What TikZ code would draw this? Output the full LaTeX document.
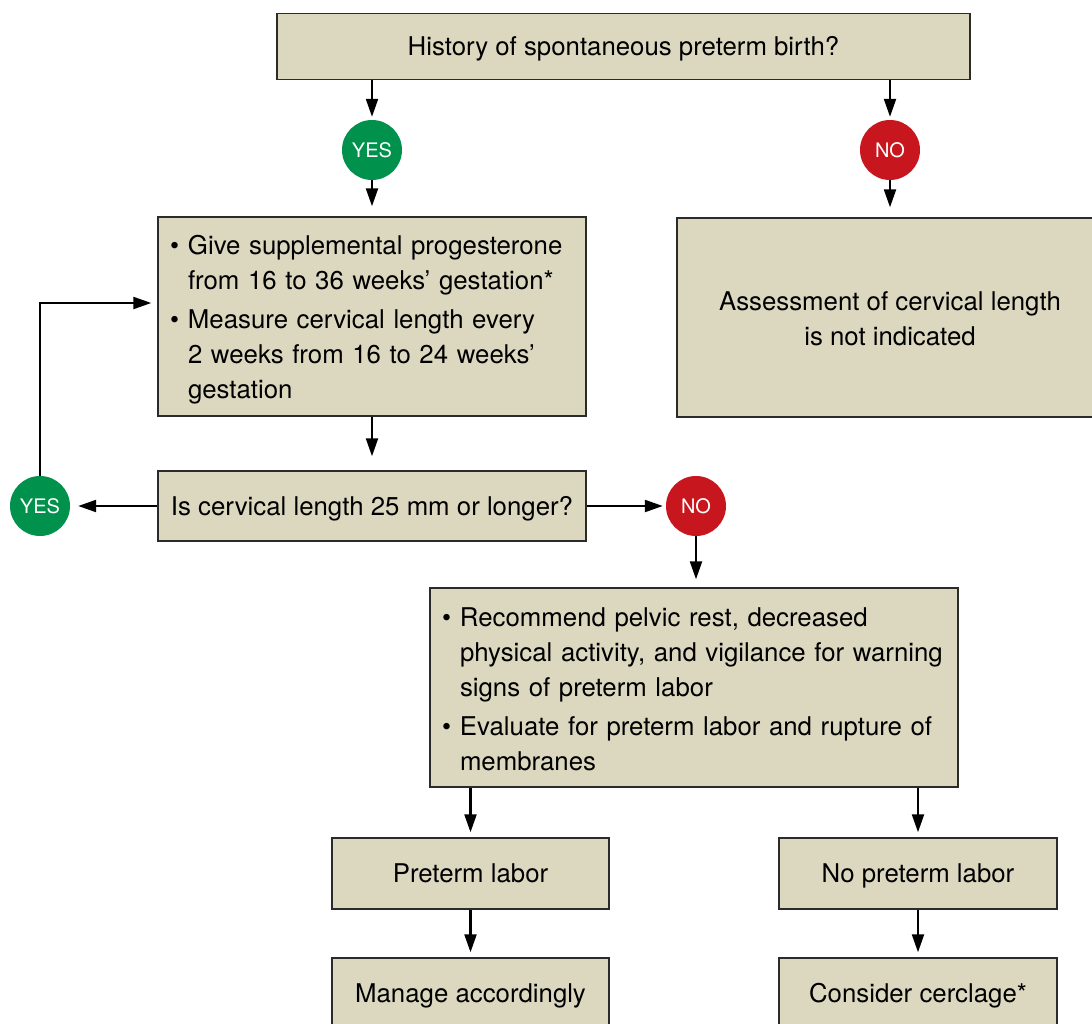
\documentclass[tikz,border=0pt]{standalone}
\usepackage{fontspec}
\setmainfont{TeX Gyre Heros}
\usetikzlibrary{arrows.meta,calc}
\definecolor{boxtan}{HTML}{DCD8C0}
\definecolor{yesgreen}{HTML}{00914C}
\definecolor{nored}{HTML}{C8161E}
\definecolor{edgegray}{HTML}{2B2B2B}
\newcommand{\bul}{\makebox[18pt][l]{\textbullet}}
\newcommand{\ind}{\hspace*{18pt}}
\begin{document}
\begin{tikzpicture}[x=1pt,y=-1pt,
  box/.style={draw=edgegray, line width=1.4pt, fill=boxtan, rectangle,
    inner sep=0pt, font=\fontsize{25.8}{35}\selectfont, text=black},
  onebox/.style={box, text height=24.6pt, text depth=6pt},
  listbox/.style={box, inner xsep=12pt, align=left},
  yesdot/.style={circle, fill=yesgreen, minimum size=60pt, inner sep=0pt,
    text=white, font=\fontsize{20}{20}\selectfont},
  nodot/.style={yesdot, fill=nored},
  arr/.style={line width=2.2pt, -{Triangle[length=18pt,width=12pt]}}]
\useasboundingbox (0,0) rectangle (1092,1023);
\clip (0,0) rectangle (1092,1023);

\node[onebox, minimum width=693pt, minimum height=66pt] (top) at (623.5,46.5)
  {History of spontaneous preterm birth?};
\node[yesdot] (yes1) at (372,150) {YES};
\node[nodot] (no1) at (890,150) {NO};

\node[listbox, text width=404pt, minimum height=199pt] (b2) at (372,316.5)
  {\rule{0pt}{26pt}\bul Give supplemental progesterone\\
   \ind from 16 to 36 weeks’ gestation*\\[4pt]
   \bul Measure cervical length every\\
   \ind 2 weeks from 16 to 24 weeks’\\
   \ind gestation};
\node[box, align=center, minimum width=426pt, minimum height=199pt] (bR) at (890,317.5)
  {\rule{0pt}{21pt}Assessment of cervical length\\is not indicated};

\node[onebox, minimum width=428pt, minimum height=70pt] (b3) at (372,506)
  {Is cervical length 25 mm or longer?};
\node[yesdot] (yes2) at (40,506) {YES};
\node[nodot] (no2) at (696,506) {NO};

\node[listbox, text width=504pt, minimum height=199pt] (b4) at (694,687.5)
  {\rule{0pt}{22pt}\bul Recommend pelvic rest, decreased\\
   \ind physical activity, and vigilance for warning\\
   \ind signs of preterm labor\\[4pt]
   \bul Evaluate for preterm labor and rupture of\\
   \ind membranes};

\node[onebox, minimum width=277pt, minimum height=71pt] (b5) at (470.5,873.5) {Preterm labor};
\node[onebox, minimum width=278pt, minimum height=71pt] (b6) at (918,873.5) {No preterm labor};
\node[onebox, minimum width=277pt, minimum height=71pt] (b7) at (470.5,993.5) {Manage accordingly};
\node[onebox, minimum width=278pt, minimum height=71pt] (b8) at (918,993.5) {Consider cerclage*};

\draw[arr, shorten >=3pt] (yes1 |- top.south) -- (yes1.north);
\draw[arr, shorten >=10pt] (yes1.south) -- (yes1 |- b2.north);
\draw[arr, shorten >=3pt] (no1 |- top.south) -- (no1.north);
\draw[arr, shorten >=10pt] (no1.south) -- (no1 |- bR.north);
\draw[arr, shorten >=14pt] (b2.south) -- (b3.north);
\draw[arr, shorten >=8pt] (b3.west) -- (yes2.east);
\draw[arr, shorten >=6pt] (yes2.north) |- ([yshift=13.5pt]b2.west);
\draw[arr, shorten >=3pt] (b3.east) -- (no2.west);
\draw[arr, shorten >=8pt] (no2.south) -- (no2 |- b4.north);
\draw[arr, shorten >=5pt] (b5 |- b4.south) -- (b5.north);
\draw[arr, shorten >=5pt] (b6 |- b4.south) -- (b6.north);
\draw[arr, shorten >=5pt] (b5.south) -- (b7.north);
\draw[arr, shorten >=5pt] (b6.south) -- (b8.north);
\end{tikzpicture}
\end{document}
